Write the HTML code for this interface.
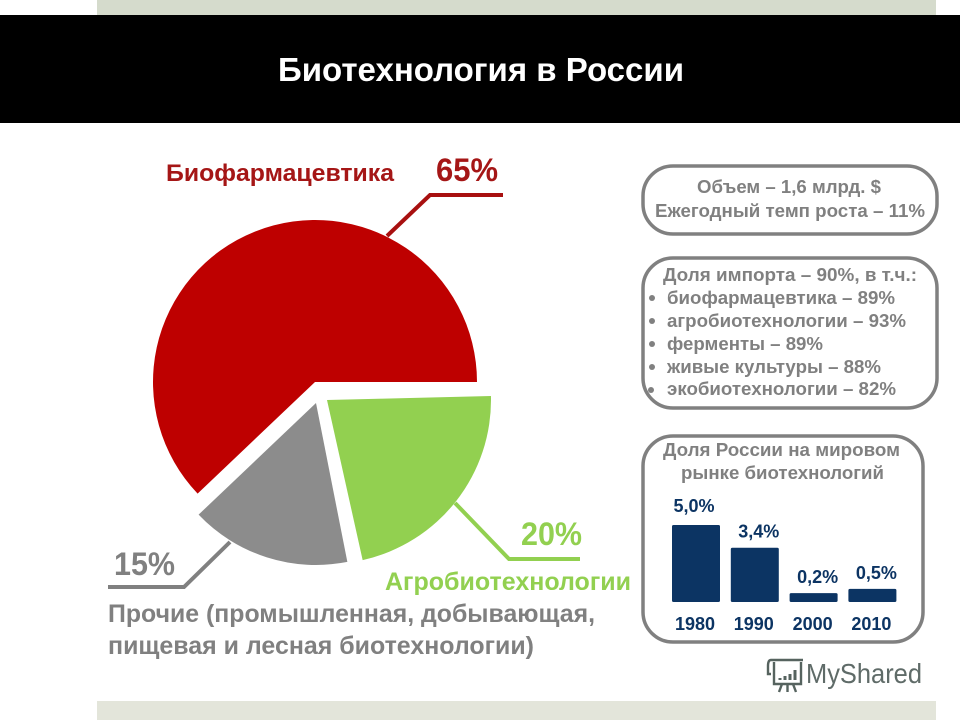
<!DOCTYPE html>
<html lang="ru">
<head>
<meta charset="utf-8">
<title>Биотехнология в России</title>
<style>
html,body{margin:0;padding:0;background:#fff;width:960px;height:720px;overflow:hidden}
svg{display:block;filter:blur(0.35px)}
text{font-family:"Liberation Sans","Noto Sans CJK SC",sans-serif;font-weight:bold}
.g{fill:#808080;font-size:18.5px}
.box{fill:#fff;stroke:#808080;stroke-width:3.5}
</style>
</head>
<body>
<svg id="slide" width="960" height="720" viewBox="0 0 960 720" xmlns="http://www.w3.org/2000/svg">
  <rect x="97" y="0" width="839" height="16" fill="#d5dbcc"/>
  <rect x="97" y="701" width="839" height="19" fill="#e3e5da"/>
  <rect x="0" y="15" width="960" height="108" fill="#000"/>
  <text x="278" y="81" fill="#fff" font-size="33" textLength="406" lengthAdjust="spacingAndGlyphs">Биотехнология в России</text>

  <g id="pie"></g>

  <polyline points="387,236 430,195 503,195" fill="none" stroke="#a81010" stroke-width="4"/>
  <polyline points="455,503 509,559 580,559" fill="none" stroke="#92d050" stroke-width="4"/>
  <polyline points="230,542 184,587 108,587" fill="none" stroke="#808080" stroke-width="4"/>

  <text x="166" y="181" fill="#a51616" font-size="24" textLength="228" lengthAdjust="spacingAndGlyphs">Биофармацевтика</text>
  <text x="385" y="590" fill="#92d050" font-size="25" textLength="246" lengthAdjust="spacingAndGlyphs">Агробиотехнологии</text>
  <text x="108" y="622" fill="#808080" font-size="25" textLength="487" lengthAdjust="spacingAndGlyphs">Прочие (промышленная, добывающая,</text>
  <text x="108" y="654" fill="#808080" font-size="25" textLength="426" lengthAdjust="spacingAndGlyphs">пищевая и лесная биотехнологии)</text>

  <rect class="box" x="643" y="166" width="294" height="68" rx="30"/>
  <text class="g" x="697" y="193" textLength="184" lengthAdjust="spacingAndGlyphs">Объем – 1,6 млрд. $</text>
  <text class="g" x="655" y="217" textLength="270" lengthAdjust="spacingAndGlyphs">Ежегодный темп роста – 11%</text>

  <rect class="box" x="643" y="258" width="294" height="150" rx="30"/>
  <text class="g" x="663" y="281" textLength="254" lengthAdjust="spacingAndGlyphs">Доля импорта – 90%, в т.ч.:</text>
  <g fill="#808080">
    <circle cx="652" cy="298" r="3"/>
    <circle cx="652" cy="321" r="3"/>
    <circle cx="652" cy="344" r="3"/>
    <circle cx="652" cy="367" r="3"/>
    <circle cx="651" cy="390" r="3"/>
  </g>
  <text class="g" x="667" y="304" textLength="228" lengthAdjust="spacingAndGlyphs">биофармацевтика – 89%</text>
  <text class="g" x="667" y="327" textLength="239" lengthAdjust="spacingAndGlyphs">агробиотехнологии – 93%</text>
  <text class="g" x="667" y="350" textLength="156" lengthAdjust="spacingAndGlyphs">ферменты – 89%</text>
  <text class="g" x="667" y="373" textLength="214" lengthAdjust="spacingAndGlyphs">живые культуры – 88%</text>
  <text class="g" x="667" y="395" textLength="229" lengthAdjust="spacingAndGlyphs">экобиотехнологии – 82%</text>

  <rect class="box" x="643" y="436" width="280" height="206" rx="30"/>
  <text class="g" x="663" y="456" textLength="237" lengthAdjust="spacingAndGlyphs">Доля России на мировом</text>
  <text class="g" x="681" y="479" textLength="203" lengthAdjust="spacingAndGlyphs">рынке биотехнологий</text>
  <g id="bars"></g>

  <g>
    <g fill="none" stroke="#56635f" stroke-width="2.400">
      <path d="M771 660h32M771 660c-3 0-3 4-3 6v8h3M774 662v22h27v-22"/>
      <path d="M782 684l-3 8M793 684l3 8M787.500 684v8"/>
      <path d="M780 680v-2M785 680v-4M790 680v-6M795 680v-10" stroke-width="3"/>
    </g>
    <text x="806" y="683" fill="#5f6b68" font-size="28" style="font-weight:normal" textLength="116" lengthAdjust="spacingAndGlyphs">MyShared</text>
  </g>
</svg>
<script>
/* Pie data: sectors as drawn in the picture (clockwise from 3 o'clock) */
const pieCategories = ['Агробиотехнологии', 'Прочие', 'Биофармацевтика'];
const pieShares = [21.9, 16.0, 62.1];
const pieLabels = ['20%', '15%', '65%'];

/* Bar data */
const barYears = ['1980', '1990', '2000', '2010'];
const barValues = [5.0, 3.4, 0.2, 0.5];
const barValueLabels = ['5,0%', '3,4%', '0,2%', '0,5%'];

const SVGNS = 'http://www.w3.org/2000/svg';

/* ---- Pie ---- */
const pieGroup = document.getElementById('pie');
const sliceStyle = [
  {fill: '#92d050', cx: 327, cy: 400, r: 164, rot: -1.4, name: 'slice-agro', tx: 521, ty: 545, tc: '#92d050', tw: 61},
  {fill: '#8c8c8c', cx: 316, cy: 403, r: 162, rot: 0, name: 'slice-other', tx: 114, ty: 575, tc: '#808080', tw: 61},
  {fill: '#be0000', cx: 315, cy: 382, r: 162, rot: 0, name: 'slice-biopharma', tx: 436, ty: 181, tc: '#a51616', tw: 62}
];
function shareToAngle(cumulativeShare, total) {
  return cumulativeShare / total * 2 * Math.PI;
}
const pieTotal = pieShares.reduce(function (a, b) { return a + b; }, 0);
let pieCumulative = 0;
pieShares.forEach(function (share, i) {
  const st = sliceStyle[i];
  const rot = st.rot * Math.PI / 180;
  const a0 = shareToAngle(pieCumulative, pieTotal) + rot;
  pieCumulative += share;
  const a1 = shareToAngle(pieCumulative, pieTotal) + rot;
  const x0 = st.cx + st.r * Math.cos(a0), y0 = st.cy + st.r * Math.sin(a0);
  const x1 = st.cx + st.r * Math.cos(a1), y1 = st.cy + st.r * Math.sin(a1);
  const large = (a1 - a0) > Math.PI ? 1 : 0;
  const path = document.createElementNS(SVGNS, 'path');
  path.setAttribute('d', 'M' + st.cx + ' ' + st.cy + 'L' + x0 + ' ' + y0 + 'A' + st.r + ' ' + st.r + ' 0 ' + large + ' 1 ' + x1 + ' ' + y1 + 'Z');
  path.setAttribute('fill', st.fill);
  
  
  pieGroup.appendChild(path);
  const label = document.createElementNS(SVGNS, 'text');
  label.textContent = pieLabels[i];
  label.setAttribute('x', st.tx);
  label.setAttribute('y', st.ty);
  label.setAttribute('fill', st.tc);
  label.setAttribute('font-size', '32');
  label.setAttribute('textLength', st.tw);
  label.setAttribute('lengthAdjust', 'spacingAndGlyphs');
  
  
  pieGroup.appendChild(label);
});

/* ---- Bars ---- */
const barGroup = document.getElementById('bars');
const NAVY = '#0c3463';
const baselineY = 602;
function barHeight(v) { return 6 + v * 14.2; }
function barX(i) { return 672 + i * 58.8; }
const barWidth = 48;
barValues.forEach(function (v, i) {
  const h = barHeight(v);
  const x = barX(i);
  const r = document.createElementNS(SVGNS, 'rect');
  r.setAttribute('x', x);
  r.setAttribute('y', baselineY - h);
  r.setAttribute('width', barWidth);
  r.setAttribute('height', h);
  r.setAttribute('rx', 1.5);
  r.setAttribute('fill', NAVY);
  
  
  barGroup.appendChild(r);

  const val = document.createElementNS(SVGNS, 'text');
  val.textContent = barValueLabels[i];
  val.setAttribute('x', x + barWidth / 2 + (i === 0 ? -2 : 4));
  val.setAttribute('y', baselineY - h - (i === 0 ? 13 : 10));
  val.setAttribute('text-anchor', 'middle');
  val.setAttribute('fill', NAVY);
  val.setAttribute('font-size', '18');
  
  
  barGroup.appendChild(val);

  const yr = document.createElementNS(SVGNS, 'text');
  yr.textContent = barYears[i];
  yr.setAttribute('x', x + barWidth / 2 - 1);
  yr.setAttribute('y', 630);
  yr.setAttribute('text-anchor', 'middle');
  yr.setAttribute('fill', NAVY);
  yr.setAttribute('font-size', '18');
  
  
  barGroup.appendChild(yr);
});
</script>
</body>
</html>
